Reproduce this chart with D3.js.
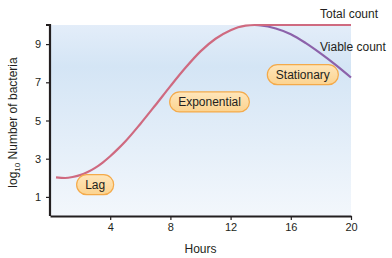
<!DOCTYPE html>
<html>
<head>
<meta charset="utf-8">
<script src="https://cdn.jsdelivr.net/npm/d3@7"></script>
<style>
  body { margin: 0; background: #fff; }
  text { font-family: "Liberation Sans", Arial, sans-serif; fill: #231f20; }
</style>
</head>
<body>
<div id="chart"></div>
<script>
// growth curve (hours, log10 count)
var totalHours = [0.4, 1, 1.5, 2, 2.5, 3, 3.5, 4, 4.5, 5, 6, 7, 8, 9, 10, 11, 12, 12.5, 13, 13.6, 14, 16, 18, 20];
var totalLog   = [2.02, 1.99, 2.04, 2.14, 2.3, 2.52, 2.8, 3.13, 3.5, 3.9, 4.82, 5.8, 6.8, 7.76, 8.62, 9.28, 9.72, 9.88, 9.97, 10, 10, 10, 10, 10];

var viableHours = [13.6, 14, 15, 16, 17, 18, 19, 20];
var viableLog   = [10, 9.98, 9.82, 9.52, 9.05, 8.5, 7.9, 7.25];

var xTicks = [4, 8, 12, 16, 20];
var yTicks = [1, 3, 5, 7, 9];

var phaseNames = ["Lag", "Exponential", "Stationary"];
var phaseHours = [3, 10.6, 16.8];
var phaseLog   = [1.64, 5.97, 7.4];

var margin = {top: 25, right: 41, bottom: 42, left: 50},
    width = 392 - margin.left - margin.right,
    height = 258 - margin.top - margin.bottom;

var svg = d3.select("#chart")
  .append("svg")
    .attr("width", 392)
    .attr("height", 258);

var defs = svg.append("defs");
var bg = defs.append("linearGradient")
  .attr("id", "bg").attr("x1", 0).attr("y1", 0).attr("x2", 0).attr("y2", 1);
bg.append("stop").attr("offset", "0%").attr("stop-color", "#e3edf9");
bg.append("stop").attr("offset", "22%").attr("stop-color", "#d4e5f5");
bg.append("stop").attr("offset", "100%").attr("stop-color", "#f3f7fc");

var pill = defs.append("linearGradient")
  .attr("id", "pill").attr("x1", 0).attr("y1", 0).attr("x2", 0).attr("y2", 1);
pill.append("stop").attr("offset", "0%").attr("stop-color", "#fee6bb");
pill.append("stop").attr("offset", "100%").attr("stop-color", "#fcd38f");

var g = svg.append("g")
  .attr("transform", "translate(" + margin.left + "," + margin.top + ")");

var x = d3.scaleLinear().domain([0, 20]).range([0, width]);
var y = d3.scaleLinear().domain([0, 10]).range([height, 0]);

g.append("rect")
  .attr("x", 0).attr("y", 0)
  .attr("width", width).attr("height", height)
  .attr("fill", "url(#bg)");

// curves
var line = d3.line()
  .x(function(d) { return x(d[0]); })
  .y(function(d) { return y(d[1]); })
  .curve(d3.curveMonotoneX);

g.append("path")
  .datum(viableHours.map(function(h, i) { return [h, viableLog[i]]; }))
  .attr("d", line)
  .attr("fill", "none")
  .attr("stroke", "#8c62aa")
  .attr("stroke-width", 2.2);

g.append("path")
  .datum(totalHours.map(function(h, i) { return [h, totalLog[i]]; }))
  .attr("d", line)
  .attr("fill", "none")
  .attr("stroke", "#cf6a80")
  .attr("stroke-width", 2.2);

// axes
var xAxis = g.append("g")
  .attr("transform", "translate(0," + height + ")")
  .call(d3.axisBottom(x).tickValues(xTicks).tickSize(4).tickSizeOuter(0).tickPadding(3));

var yAxis = g.append("g")
  .call(d3.axisLeft(y).tickValues(yTicks).tickSize(4).tickSizeOuter(0).tickPadding(5));
yAxis.select(".domain").attr("d", "M-4," + y(10) + "H0V" + y(0));

[xAxis, yAxis].forEach(function(a) {
  a.selectAll("path, line").attr("stroke", "#231f20");
  a.select(".domain").attr("stroke-width", 2.2);
  a.selectAll(".tick line").attr("stroke-width", 1.2);
  a.selectAll("text")
    .style("font-family", "'Liberation Sans', Arial, sans-serif")
    .style("font-size", "11px")
    .attr("fill", "#231f20");
});

// phase labels
phaseNames.forEach(function(name, i) {
  var lg = g.append("g")
    .attr("transform", "translate(" + x(phaseHours[i]) + "," + y(phaseLog[i]) + ")");
  var r = lg.append("rect");
  var t = lg.append("text")
    .attr("text-anchor", "middle")
    .attr("dy", "0.36em")
    .style("font-size", "12px")
    .text(name);
  var w = t.node().getComputedTextLength() + 17;
  var h = 20;
  r.attr("x", -w / 2).attr("y", -h / 2)
    .attr("width", w).attr("height", h)
    .attr("rx", h / 2).attr("ry", h / 2)
    .attr("fill", "url(#pill)")
    .attr("stroke", "#f4aa4a")
    .attr("stroke-width", 1.2);
});

// line labels
svg.append("text").attr("x", 320).attr("y", 18)
  .style("font-size", "12px").text("Total count");
svg.append("text").attr("x", 320).attr("y", 51)
  .style("font-size", "12px").text("Viable count");

// axis titles
svg.append("text")
  .attr("x", margin.left + width / 2)
  .attr("y", 253)
  .attr("text-anchor", "middle")
  .style("font-size", "12px")
  .text("Hours");

var yt = svg.append("text")
  .attr("transform", "translate(17," + (margin.top + height / 2 + 2) + ")rotate(-90)")
  .attr("text-anchor", "middle")
  .style("font-size", "12px");
yt.append("tspan").text("log");
yt.append("tspan").attr("dy", 3).style("font-size", "8px").text("10");
yt.append("tspan").attr("dy", -3).text(" Number of bacteria");
</script>
</body>
</html>
